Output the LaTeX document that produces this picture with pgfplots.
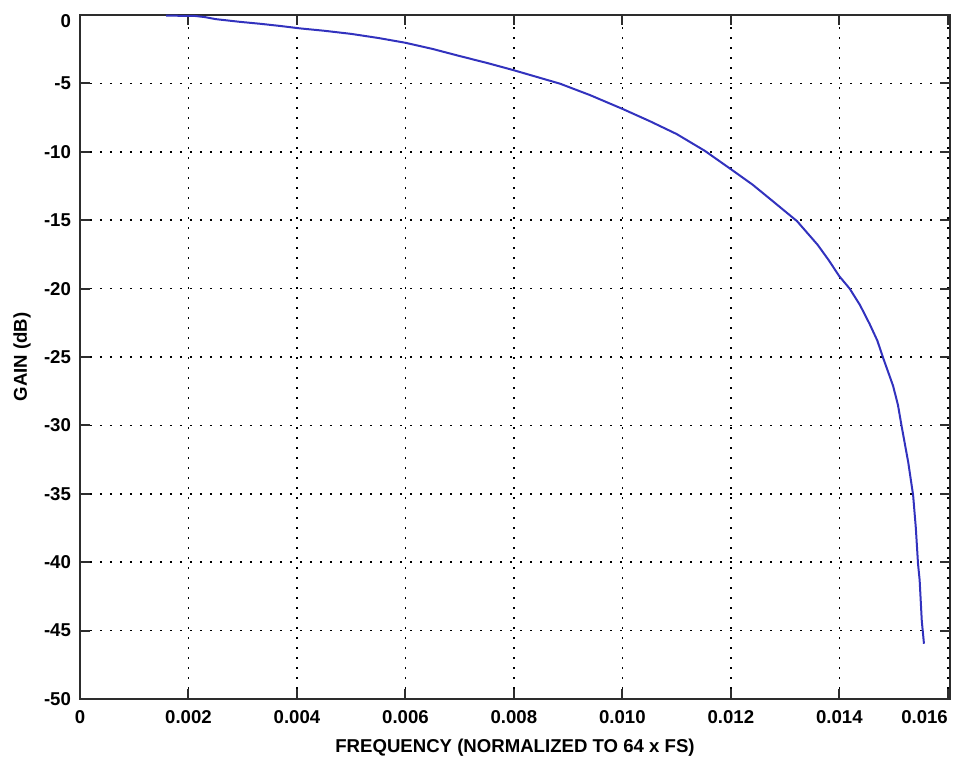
\documentclass[border=0pt]{standalone}
\usepackage{fontspec}
\setmainfont{Liberation Sans}
\usepackage{pgfplots}
\pgfplotsset{compat=1.18}
\definecolor{curve}{RGB}{50,50,190}
\definecolor{axgray}{RGB}{45,45,45}
\begin{document}
\begin{tikzpicture}
\useasboundingbox (-40pt,-29pt) rectangle (437pt,349.5pt);
\begin{axis}[
  at={(0pt,0pt)}, anchor=south west,
  scale only axis, width=435pt, height=342pt,
  xmin=0, xmax=0.01604, ymin=-50, ymax=0,
  xtick={0,0.002,0.004,0.006,0.008,0.010,0.012,0.014,0.016},
  xticklabels={0,0.002,0.004,0.006,0.008,0.010,0.012,0.014,\makebox[0pt][r]{0.016}},
  ytick={-50,-45,-40,-35,-30,-25,-20,-15,-10,-5,0},
  yticklabels={-50,-45,-40,-35,-30,-25,-20,-15,-10,-5,\raisebox{-6.35pt}[0pt][0pt]{0}},
  scaled x ticks=false,
  tick align=inside,
  major tick length=5pt,
  tick style={axgray, line width=1pt},
  axis line style={axgray, line width=1pt},
  grid=major,
  major grid style={black, line width=0.8pt, dash pattern=on 0.8pt off 4.2pt},
  ticklabel style={font=\fontsize{9.3}{11}\selectfont\bfseries},
  x tick label style={yshift=-2.4pt},
  y tick label style={xshift=-1pt},
  every axis x label/.style={at={(axis description cs:0.5,0)}, anchor=center, yshift=-24.5pt, font=\fontsize{9.3}{11}\selectfont\bfseries},
  every axis y label/.style={at={(axis description cs:0,0.5)}, xshift=-29pt, rotate=90, anchor=center, font=\fontsize{9.3}{11}\selectfont\bfseries},
  xlabel={FREQUENCY (NORMALIZED TO 64 x FS)},
  ylabel={GAIN (dB)},
  clip=false,
]
\addplot[curve, line width=1pt] coordinates {
(0.00159,-0.05) (0.0021,-0.06) (0.0023,-0.15) (0.0025,-0.3) (0.00295,-0.5) (0.00332,-0.64)
(0.00369,-0.8) (0.00406,-0.98) (0.0045,-1.15) (0.005,-1.38) (0.0055,-1.68) (0.006,-2.03)
(0.0065,-2.48) (0.007,-3.0) (0.0075,-3.5)
(0.008,-4.04) (0.00885,-5.02) (0.0094,-5.85) (0.010,-6.86) (0.0105,-7.75) (0.011,-8.7) (0.01152,-9.93)
(0.012,-11.27) (0.0124,-12.4) (0.01277,-13.6) (0.01322,-15.07) (0.0136,-16.8) (0.0138,-17.9)
(0.014,-19.1) (0.01419,-20.0) (0.01438,-21.2) (0.01456,-22.6) (0.0147,-23.8) (0.01481,-25.1) (0.01499,-27.1)
(0.01508,-28.5) (0.01515,-30.1) (0.01527,-32.7) (0.01536,-35.1) (0.01541,-37.5) (0.01545,-40.1) (0.01548,-41.3)
(0.01552,-44.3) (0.01556,-45.96)
};
\end{axis}
\end{tikzpicture}
\end{document}
